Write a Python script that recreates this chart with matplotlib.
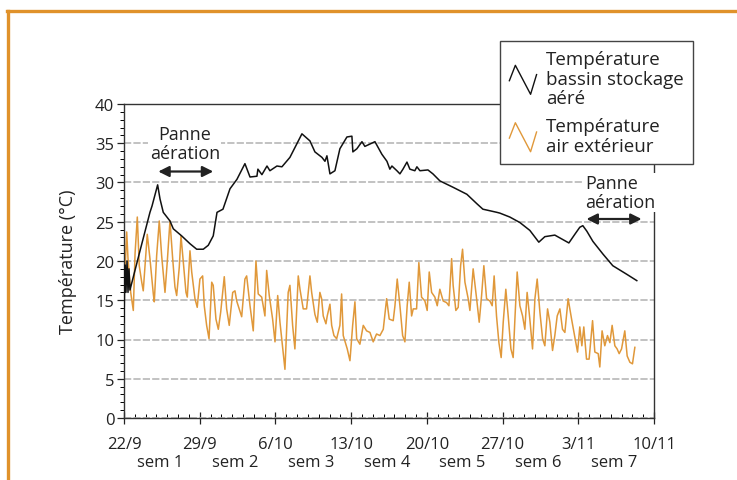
import numpy as np
import matplotlib
matplotlib.use('Agg')
import matplotlib.pyplot as plt
from matplotlib.lines import Line2D
from matplotlib.legend_handler import HandlerBase
from matplotlib.ticker import MultipleLocator

plt.rcParams['font.family'] = ['Open Sans', 'DejaVu Sans']

# days since 22/9, temperature in degC
bassin_jour = [0.0, 0.09, 0.18, 0.28, 0.37, 0.46, 0.55, 1.48, 2.40, 2.59, 3.11, 3.33, 3.63,
               4.25, 4.56, 5.33, 6.10, 6.72, 7.33, 7.79, 8.25, 8.60, 9.15, 9.80, 10.44,
               11.18, 11.65, 12.29, 12.38, 12.75, 13.22, 13.49, 14.14, 14.60, 15.34, 16.45,
               17.19, 17.65, 18.30, 18.58, 18.76, 19.04, 19.50, 19.96, 20.61, 21.07, 21.16,
               21.53, 22.00, 22.27, 22.74, 23.20, 23.84, 24.31, 24.58, 24.77, 25.23, 25.51,
               25.79, 26.16, 26.43, 26.89, 27.08, 27.36, 28.10, 28.56, 29.21, 30.41, 31.70,
               32.62, 33.18, 33.83, 34.47, 34.75, 35.67, 36.60, 37.52, 38.35, 38.91, 39.83,
               40.48, 41.13, 41.68, 42.14, 42.42, 42.79, 43.35, 44.27, 45.19, 46.49, 47.41]
bassin_temp = [12.2, 19.5, 16.0, 20.0, 16.0, 19.0, 16.3, 21.3, 26.2, 27.0, 29.7, 27.9, 26.2,
               25.1, 24.1, 23.2, 22.2, 21.5, 21.5, 22.0, 23.2, 26.2, 26.6, 29.2, 30.4,
               32.4, 30.7, 30.8, 31.7, 31.0, 32.1, 31.5, 32.1, 32.0, 33.2, 36.2,
               35.3, 33.9, 33.2, 32.7, 33.4, 31.1, 31.5, 34.3, 35.8, 35.9, 33.9,
               34.3, 35.2, 34.6, 34.9, 35.2, 33.6, 32.7, 31.7, 32.1, 31.5, 31.1,
               31.7, 32.6, 31.7, 31.5, 32.0, 31.5, 31.6, 31.1, 30.2, 29.4, 28.5,
               27.3, 26.6, 26.4, 26.2, 26.1, 25.6, 24.9, 23.9, 22.4, 23.1, 23.3,
               22.8, 22.3, 23.4, 24.3, 24.5, 23.8, 22.5, 20.9, 19.4, 18.3, 17.5]

air_jour = [0.0, 0.25, 0.37, 0.62, 0.86, 1.02, 1.23, 1.41, 1.64, 1.78, 2.03, 2.15, 2.40, 2.71,
            2.80, 3.02, 3.26, 3.48, 3.79, 4.00, 4.25, 4.50, 4.71, 4.87, 5.11, 5.27, 5.48,
            5.73, 5.85, 6.10, 6.26, 6.56, 6.77, 7.02, 7.27, 7.42, 7.64, 7.86, 8.11, 8.25,
            8.50, 8.72, 8.94, 9.27, 9.49, 9.73, 10.05, 10.26, 10.42, 10.56, 10.88, 11.18,
            11.34, 11.65, 11.95, 12.20, 12.41, 12.73, 13.03, 13.19, 13.43, 13.74, 13.96,
            14.21, 14.42, 14.88, 15.18, 15.34, 15.59, 15.80, 16.11, 16.27, 16.57, 16.88,
            17.19, 17.35, 17.65, 17.87, 18.11, 18.27, 18.42, 18.67, 18.79, 19.04, 19.20,
            19.41, 19.66, 19.96, 20.12, 20.27, 20.64, 20.89, 21.14, 21.35, 21.51, 21.81,
            22.12, 22.43, 22.74, 23.04, 23.35, 23.66, 23.97, 24.28, 24.52, 24.89, 25.05,
            25.26, 25.51, 25.76, 25.97, 26.18, 26.37, 26.59, 26.74, 27.05, 27.26, 27.51,
            27.82, 28.03, 28.22, 28.44, 28.74, 28.96, 29.20, 29.51, 29.82, 30.04, 30.29,
            30.43, 30.68, 30.90, 31.12, 31.30, 31.52, 31.82, 31.98, 32.28, 32.60, 32.84,
            33.06, 33.27, 33.52, 33.83, 34.04, 34.22, 34.44, 34.66, 34.87, 35.06, 35.30,
            35.52, 35.77, 35.98, 36.14, 36.35, 36.60, 36.85, 37.06, 37.27, 37.52, 37.77,
            37.99, 38.20, 38.45, 38.70, 38.91, 39.16, 39.37, 39.62, 39.83, 40.05, 40.30,
            40.54, 40.76, 41.06, 41.38, 41.68, 41.93, 42.14, 42.33, 42.51, 42.76, 43.00,
            43.32, 43.53, 43.84, 43.99, 44.20, 44.45, 44.70, 44.92, 45.13, 45.38, 45.59,
            45.78, 46.00, 46.30, 46.52, 46.77, 47.01, 47.23]
air_temp = [15.6, 23.7, 20.3, 16.0, 13.7, 20.9, 25.6, 19.4, 17.3, 16.2, 21.1, 23.4, 20.3, 15.8,
            14.8, 20.7, 25.1, 20.7, 16.0, 19.9, 25.1, 20.3, 16.7, 15.6, 19.2, 23.2, 19.9,
            16.0, 15.4, 21.3, 18.6, 15.2, 14.1, 17.7, 18.1, 14.3, 11.8, 10.1, 17.3, 16.9,
            12.6, 11.3, 13.5, 18.0, 13.9, 11.8, 16.0, 16.2, 14.9, 14.3, 12.9, 17.7,
            18.1, 14.3, 11.1, 20.0, 15.8, 15.4, 13.0, 18.8, 15.6, 12.6, 9.7,
            15.6, 12.2, 6.2, 16.0, 16.9, 11.8, 8.8, 18.1, 16.4, 13.9, 13.9,
            18.1, 16.0, 13.2, 12.2, 16.0, 15.2, 13.0, 12.0, 13.0, 14.5, 11.8,
            10.5, 10.1, 11.8, 15.8, 10.5, 8.8, 7.3, 11.8, 14.8, 10.1, 9.4,
            11.8, 11.1, 10.9, 9.7, 10.7, 10.5, 11.3, 15.2, 12.6, 12.4, 14.3,
            17.7, 14.3, 10.5, 9.7, 14.3, 17.3, 13.0, 13.9, 13.9, 19.8, 15.4,
            14.9, 13.7, 18.6, 16.0, 15.4, 14.3, 16.4, 14.9, 14.7, 14.3, 20.3,
            16.9, 13.7, 14.1, 19.4, 21.5, 17.3, 15.2, 13.7, 19.0, 15.2, 12.2,
            15.6, 19.4, 15.2, 14.9, 14.3, 18.1, 13.0, 9.6, 7.7, 12.2, 16.4,
            13.0, 8.8, 7.7, 12.6, 18.6, 14.3, 13.0, 11.3, 16.0, 12.6, 8.8,
            15.2, 17.7, 13.5, 10.1, 9.2, 13.9, 12.2, 8.6, 10.5, 13.0, 13.9,
            11.3, 10.9, 15.2, 12.6, 10.3, 8.4, 11.6, 9.2, 11.6, 7.5, 7.5,
            12.4, 8.4, 8.2, 6.5, 11.1, 9.2, 10.5, 9.6, 11.8, 9.2, 8.8,
            8.2, 8.8, 11.1, 7.9, 7.1, 6.9, 9.0]

dates = ['22/9', '29/9', '6/10', '13/10', '20/10', '27/10', '3/11', '10/11']
semaines = ['sem 1', 'sem 2', 'sem 3', 'sem 4', 'sem 5', 'sem 6', 'sem 7']

noir = '#111111'
orange = '#E0983A'


class ZigZag(HandlerBase):
    def create_artists(self, legend, orig_handle, xdescent, ydescent,
                       width, height, fontsize, trans):
        x = np.array([0.0, 0.22, 0.78, 1.0]) * width - xdescent
        y = np.array([0.47, 1.0, 0.0, 0.68]) * height - ydescent
        l = Line2D(x, y, color=orig_handle.get_color(), lw=1.0)
        l.set_transform(trans)
        return [l]


fig = plt.figure(figsize=(7.37, 4.81), dpi=100)
ax = fig.add_axes([124/737, 1-419/481, (654-124)/737, (419-105)/481])

ax.yaxis.grid(True, color='#bdbdbd', lw=1.3, linestyle=(0, (4, 1.2)), zorder=0)
ax.set_axisbelow(True)

l_air, = ax.plot(air_jour, air_temp, color=orange, lw=1.1, zorder=2)
l_bas, = ax.plot(bassin_jour, bassin_temp, color=noir, lw=1.1, zorder=3)

ax.set_xlim(0, 49)
ax.set_ylim(0, 40)
ax.set_yticks(range(0, 41, 5))
ax.yaxis.set_minor_locator(MultipleLocator(1))
ax.set_xticks(range(0, 50, 7))
ax.set_xticklabels(dates)
ax.xaxis.set_minor_locator(MultipleLocator(1))
ax.tick_params(axis='both', labelsize=12, colors='#222222', width=0.9)
ax.tick_params(axis='y', which='major', direction='out', length=5, pad=2)
ax.tick_params(axis='y', which='minor', direction='out', length=3, width=0.7)
ax.tick_params(axis='x', which='major', direction='inout', length=8, pad=9)
ax.tick_params(axis='x', which='minor', direction='in', length=3, width=0.7)
for s in ax.spines.values():
    s.set_color('#333333')
    s.set_linewidth(1.0)

for i, s in enumerate(semaines):
    ax.text(7*i + 3.3, -0.14, s, transform=ax.get_xaxis_transform(),
            ha='center', va='center', fontsize=12, color='#222222')

ax.set_ylabel('Température (°C)', fontsize=13, color='#222222', labelpad=13)

# pannes d'aeration
fleche = dict(arrowstyle='<|-|>', color='#222222', lw=1.6, mutation_scale=16,
              shrinkA=0, shrinkB=0)
ax.annotate('', xy=(8.25, 31.4), xytext=(3.17, 31.4), arrowprops=fleche, zorder=5)
ax.text(5.62, 35.0, 'Panne\naération', ha='center', va='center', fontsize=13,
        color='#222222', linespacing=1.05,
        bbox=dict(fc='white', ec='none', pad=1), zorder=4)
ax.annotate('', xy=(47.85, 25.35), xytext=(42.76, 25.35), arrowprops=fleche, zorder=5)
ax.text(42.6, 28.7, 'Panne\naération', ha='left', va='center', fontsize=13,
        color='#222222', linespacing=1.05,
        bbox=dict(fc='white', ec='none', pad=1), zorder=4)

leg = fig.legend([l_bas, l_air],
                 ['Température\nbassin stockage\naéré', 'Température\nair extérieur'],
                 handler_map={Line2D: ZigZag()},
                 loc='upper left', bbox_to_anchor=(500/737, 1-42/481),
                 fontsize=13.5, frameon=True, fancybox=False, framealpha=1,
                 edgecolor='#444444', handlelength=1.45, handleheight=2.0,
                 handletextpad=0.5, labelspacing=0.55, borderpad=0.5,
                 borderaxespad=0)
leg.get_frame().set_linewidth(1.0)
for t in leg.get_texts():
    t.set_linespacing(1.1)
    t.set_color('#222222')

# cadre orange
fig.add_artist(Line2D([7/737, 1], [1-11.5/481, 1-11.5/481], color='#E0922B', lw=2.4,
                      transform=fig.transFigure))
fig.add_artist(Line2D([8/737, 8/737], [0, 1-11.5/481], color='#E0922B', lw=2.4,
                      transform=fig.transFigure))

fig.savefig('out.png', dpi=100)
